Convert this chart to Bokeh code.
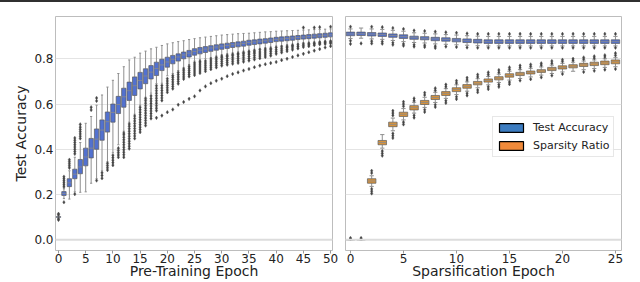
from bokeh.plotting import figure
from bokeh.layouts import row, column
from bokeh.models import (ColumnDataSource, FixedTicker, PrintfTickFormatter, Span, Legend,
                          LegendItem, Range1d, Div)
from bokeh.embed import file_html
from bokeh.resources import INLINE

# ---------------- data: pre-training test accuracy (51 epochs) ----------------
pre_epochs = list(range(51))
pre_q1 = [0.099, 0.196, 0.235, 0.270, 0.292, 0.327, 0.362, 0.400, 0.440, 0.476,
          0.520, 0.558, 0.586, 0.616, 0.638, 0.667, 0.690, 0.711, 0.726, 0.748,
          0.763, 0.778, 0.790, 0.800, 0.808, 0.816, 0.822, 0.828, 0.833, 0.838,
          0.842, 0.846, 0.850, 0.853, 0.856, 0.860, 0.863, 0.866, 0.869, 0.872,
          0.876, 0.878, 0.880, 0.882, 0.885, 0.887, 0.889, 0.891, 0.893, 0.895, 0.897]
pre_med = [0.101, 0.205, 0.252, 0.290, 0.322, 0.366, 0.405, 0.445, 0.485, 0.522,
           0.563, 0.598, 0.632, 0.659, 0.681, 0.704, 0.724, 0.741, 0.757, 0.773,
           0.786, 0.798, 0.808, 0.817, 0.825, 0.832, 0.838, 0.843, 0.848, 0.852,
           0.856, 0.859, 0.862, 0.865, 0.868, 0.872, 0.875, 0.878, 0.880, 0.883,
           0.886, 0.888, 0.890, 0.892, 0.894, 0.896, 0.898, 0.900, 0.902, 0.904, 0.906]
pre_q3 = [0.103, 0.213, 0.270, 0.312, 0.355, 0.405, 0.448, 0.490, 0.530, 0.565,
          0.600, 0.634, 0.670, 0.697, 0.720, 0.740, 0.756, 0.770, 0.785, 0.798,
          0.807, 0.815, 0.822, 0.830, 0.837, 0.845, 0.850, 0.854, 0.858, 0.862,
          0.866, 0.869, 0.872, 0.875, 0.878, 0.882, 0.884, 0.887, 0.889, 0.892,
          0.895, 0.897, 0.899, 0.901, 0.903, 0.905, 0.907, 0.909, 0.911, 0.913, 0.915]
pre_lo = [0.096, 0.182, 0.180, 0.212, 0.210, 0.212, 0.250, 0.270, 0.305, 0.345,
          0.385, 0.420, 0.480, 0.520, 0.555, 0.595, 0.630, 0.648, 0.690, 0.692,
          0.725, 0.735, 0.748, 0.762, 0.775, 0.790, 0.795, 0.800, 0.806, 0.812,
          0.818, 0.822, 0.826, 0.830, 0.834, 0.838, 0.842, 0.846, 0.849, 0.852,
          0.856, 0.859, 0.862, 0.865, 0.868, 0.871, 0.873, 0.875, 0.877, 0.879, 0.881]
pre_hi = [0.106, 0.225, 0.305, 0.365, 0.430, 0.515, 0.545, 0.595, 0.640, 0.675,
          0.705, 0.735, 0.765, 0.795, 0.807, 0.825, 0.834, 0.844, 0.851, 0.859,
          0.866, 0.871, 0.876, 0.880, 0.885, 0.889, 0.893, 0.896, 0.899, 0.902,
          0.905, 0.907, 0.909, 0.911, 0.912, 0.913, 0.915, 0.917, 0.919, 0.920,
          0.922, 0.923, 0.924, 0.925, 0.926, 0.927, 0.928, 0.929, 0.930, 0.931, 0.932]
pre_out = [
    [0.088, 0.092, 0.111, 0.115],
    [0.166, 0.234, 0.243, 0.252, 0.261, 0.270, 0.279],
    [0.318, 0.327, 0.336, 0.345, 0.354],
    [0.202, 0.380, 0.390, 0.400, 0.410, 0.420, 0.430, 0.440, 0.450],
    [0.448, 0.458, 0.468, 0.478, 0.488, 0.498, 0.510],
    [],
    [0.574, 0.586],
    [0.262, 0.614, 0.627],
    [0.272, 0.284, 0.296],
    [0.308, 0.318, 0.328, 0.338],
    [0.330, 0.341, 0.352, 0.363, 0.374],
    [0.365, 0.375, 0.385, 0.395, 0.405],
    [0.365, 0.376, 0.387, 0.398, 0.409, 0.420, 0.431, 0.442, 0.453, 0.464, 0.472],
    [0.403, 0.414, 0.425, 0.436, 0.447, 0.458, 0.469, 0.480, 0.491, 0.502, 0.512],
    [0.448, 0.459, 0.470, 0.481, 0.492, 0.503, 0.514, 0.525, 0.536, 0.547],
    [0.476, 0.487, 0.498, 0.509, 0.520, 0.531, 0.542, 0.553, 0.564, 0.575, 0.586],
    [0.505, 0.516, 0.527, 0.538, 0.549, 0.560, 0.571, 0.582, 0.593, 0.604, 0.615, 0.624],
    [0.536, 0.547, 0.558, 0.569, 0.580, 0.591, 0.602, 0.613, 0.624, 0.636],
    [0.539, 0.571, 0.582, 0.593, 0.604, 0.615, 0.626, 0.637, 0.648, 0.659, 0.670, 0.681],
    [0.549, 0.616, 0.627, 0.638, 0.649, 0.660, 0.671, 0.682],
    [0.564, 0.652, 0.662, 0.672, 0.682, 0.692, 0.702, 0.712],
    [0.576, 0.668, 0.678, 0.688, 0.698, 0.708, 0.718, 0.726],
    [0.597, 0.690, 0.700, 0.710, 0.720, 0.730, 0.740],
    [0.609, 0.711, 0.720, 0.729, 0.738, 0.747, 0.755],
    [0.623, 0.722, 0.731, 0.740, 0.749, 0.758, 0.767],
    [0.634, 0.728, 0.737, 0.746, 0.755, 0.764, 0.773, 0.782],
    [0.660, 0.737, 0.746, 0.755, 0.764, 0.773, 0.782, 0.789],
    [0.678, 0.745, 0.754, 0.763, 0.772, 0.781, 0.790],
    [0.692, 0.754, 0.763, 0.772, 0.781, 0.790, 0.799],
    [0.703, 0.762, 0.771, 0.780, 0.789, 0.798, 0.806],
    [0.712, 0.770, 0.779, 0.788, 0.797, 0.806, 0.812],
    [0.723, 0.774, 0.783, 0.792, 0.801, 0.810, 0.816],
    [0.733, 0.778, 0.787, 0.796, 0.805, 0.814, 0.820],
    [0.740, 0.782, 0.791, 0.800, 0.809, 0.818, 0.824],
    [0.748, 0.787, 0.796, 0.805, 0.814, 0.822, 0.828],
    [0.755, 0.792, 0.801, 0.810, 0.819, 0.826, 0.832],
    [0.763, 0.797, 0.806, 0.815, 0.824, 0.830, 0.836],
    [0.770, 0.803, 0.812, 0.821, 0.830, 0.840],
    [0.776, 0.808, 0.817, 0.826, 0.835, 0.843],
    [0.781, 0.814, 0.823, 0.832, 0.840, 0.846],
    [0.786, 0.822, 0.831, 0.840, 0.850],
    [0.794, 0.828, 0.836, 0.844, 0.853],
    [0.800, 0.834, 0.842, 0.850, 0.856],
    [0.808, 0.840, 0.848, 0.856, 0.860],
    [0.815, 0.846, 0.854, 0.862],
    [0.822, 0.852, 0.859, 0.866, 0.938],
    [0.829, 0.856, 0.862, 0.868],
    [0.836, 0.860, 0.866, 0.870, 0.938],
    [0.843, 0.864, 0.869, 0.873, 0.940],
    [0.850, 0.866, 0.871, 0.875],
    [0.856, 0.868, 0.873, 0.877, 0.942],
]

# ---------------- data: sparsification (26 epochs) ----------------
sp_epochs = list(range(26))
acc_q1 = [0.902, 0.903, 0.901, 0.899, 0.895, 0.890, 0.886, 0.884, 0.880, 0.878, 0.875, 0.872, 0.870,
          0.868, 0.868, 0.868, 0.868, 0.868, 0.868, 0.868, 0.868, 0.868, 0.868, 0.868, 0.868, 0.868]
acc_med = [0.910, 0.911, 0.909, 0.907, 0.903, 0.898, 0.893, 0.891, 0.888, 0.886, 0.883, 0.880, 0.878,
           0.876, 0.876, 0.876, 0.876, 0.876, 0.876, 0.876, 0.876, 0.876, 0.876, 0.876, 0.876, 0.876]
acc_q3 = [0.918, 0.918, 0.916, 0.914, 0.910, 0.906, 0.900, 0.898, 0.895, 0.893, 0.890, 0.888, 0.886,
          0.884, 0.884, 0.884, 0.884, 0.884, 0.884, 0.884, 0.884, 0.884, 0.884, 0.884, 0.884, 0.884]
acc_lo = [0.890, 0.891, 0.888, 0.886, 0.881, 0.876, 0.872, 0.870, 0.866, 0.864, 0.862, 0.860, 0.858,
          0.857, 0.857, 0.857, 0.857, 0.857, 0.857, 0.857, 0.857, 0.857, 0.857, 0.857, 0.857, 0.857]
acc_hi = [0.932, 0.936, 0.932, 0.930, 0.926, 0.922, 0.915, 0.913, 0.910, 0.907, 0.905, 0.902, 0.900,
          0.899, 0.899, 0.899, 0.899, 0.899, 0.899, 0.899, 0.899, 0.899, 0.899, 0.899, 0.899, 0.899]
acc_out = [[0.942, 0.880, 0.866], [0.868], [0.942, 0.878, 0.868], [0.940, 0.876, 0.867],
           [0.936, 0.871, 0.862], [0.932, 0.866, 0.858], [0.925, 0.862, 0.854], [0.923, 0.860, 0.852],
           [0.920, 0.856, 0.848], [0.917, 0.854], [0.915, 0.852], [0.912, 0.850], [0.910, 0.849],
           [0.910, 0.849], [0.910, 0.849], [0.910, 0.849], [0.910, 0.849], [0.910, 0.849],
           [0.910, 0.849], [0.910, 0.849], [0.910, 0.849], [0.910, 0.849], [0.910, 0.849],
           [0.910, 0.849], [0.910, 0.849], [0.910, 0.849]]

spr_q1 = [0.0, 0.0, 0.250, 0.420, 0.500, 0.545, 0.574, 0.598, 0.620, 0.638, 0.655, 0.670, 0.685,
          0.697, 0.707, 0.719, 0.726, 0.733, 0.740, 0.748, 0.755, 0.760, 0.766, 0.770, 0.774, 0.778]
spr_med = [0.0, 0.0, 0.260, 0.430, 0.510, 0.555, 0.584, 0.607, 0.629, 0.647, 0.664, 0.678, 0.692,
           0.704, 0.714, 0.726, 0.733, 0.740, 0.746, 0.755, 0.762, 0.767, 0.773, 0.778, 0.782, 0.787]
spr_q3 = [0.0, 0.0, 0.270, 0.439, 0.520, 0.564, 0.593, 0.616, 0.638, 0.655, 0.672, 0.686, 0.700,
          0.711, 0.721, 0.734, 0.740, 0.746, 0.752, 0.762, 0.769, 0.774, 0.780, 0.785, 0.790, 0.795]
spr_lo = [0.0, 0.0, 0.236, 0.405, 0.482, 0.530, 0.560, 0.585, 0.607, 0.625, 0.642, 0.657, 0.672,
          0.685, 0.695, 0.706, 0.713, 0.720, 0.728, 0.735, 0.742, 0.745, 0.752, 0.757, 0.762, 0.765]
spr_hi = [0.0, 0.0, 0.283, 0.465, 0.538, 0.580, 0.608, 0.630, 0.652, 0.668, 0.685, 0.698, 0.712,
          0.722, 0.732, 0.745, 0.752, 0.758, 0.764, 0.772, 0.780, 0.785, 0.790, 0.795, 0.800, 0.805]
spr_out = [[0.004, 0.008], [0.004, 0.008], [0.295, 0.305, 0.225, 0.215, 0.205],
           [0.392, 0.382, 0.372], [0.550, 0.560, 0.570, 0.470, 0.460, 0.450],
           [0.590, 0.600, 0.610, 0.520, 0.510], [0.615, 0.625, 0.550, 0.540],
           [0.640, 0.650, 0.575, 0.565], [0.660, 0.670, 0.597, 0.587],
           [0.676, 0.686, 0.615, 0.605], [0.693, 0.703, 0.632, 0.622],
           [0.706, 0.716, 0.648, 0.638], [0.720, 0.730, 0.662, 0.652],
           [0.730, 0.740, 0.676, 0.666], [0.740, 0.750, 0.686, 0.676],
           [0.753, 0.762, 0.697, 0.688], [0.760, 0.770, 0.704], [0.766, 0.775, 0.710],
           [0.772, 0.780, 0.718], [0.780, 0.790, 0.726], [0.788, 0.796, 0.733],
           [0.793, 0.800], [0.798, 0.806, 0.742], [0.803, 0.811, 0.747],
           [0.808, 0.816, 0.752], [0.815, 0.825, 0.755]]

legend_labels = ["Test Accuracy", "Sparsity Ratio"]
y_ticks = [0.0, 0.2, 0.4, 0.6, 0.8]
pre_ticks = [0, 5, 10, 15, 20, 25, 30, 35, 40, 45, 50]
sp_ticks = [0, 5, 10, 15, 20, 25]

BLUE = "#5271cf"
ORANGE = "#d7923b"
LEG_BLUE = "#3c7cc0"
LEG_ORANGE = "#f08a3a"
FONT = "DejaVu Sans"
Y_RANGE = (-0.0473, 0.987)
NAN = float("nan")


def draw_boxes(p, xs, q1, med, q3, lo, hi, outs, fill, width):
    cw = width * 0.25
    hw = width * 0.5
    src = ColumnDataSource(dict(
        x=xs, q1=q1, med=med, q3=q3, lo=lo, hi=hi,
        xl=[x - cw for x in xs], xr=[x + cw for x in xs],
        ml=[x - hw for x in xs], mr=[x + hw for x in xs]))
    wcol = "#8f8f8f"
    p.segment(x0="x", y0="q3", x1="x", y1="hi", source=src, line_color=wcol, line_width=1)
    p.segment(x0="x", y0="q1", x1="x", y1="lo", source=src, line_color=wcol, line_width=1)
    p.segment(x0="xl", y0="hi", x1="xr", y1="hi", source=src, line_color=wcol, line_width=1)
    p.segment(x0="xl", y0="lo", x1="xr", y1="lo", source=src, line_color=wcol, line_width=1)
    p.vbar(x="x", width=width, top="q3", bottom="q1", source=src,
           fill_color=fill, line_color="#5a5a5a", line_width=0.7)
    p.segment(x0="ml", y0="med", x1="mr", y1="med", source=src, line_color="#8a8a8a",
              line_width=0.8)
    ox = [x for x, vals in zip(xs, outs) for _ in vals]
    oy = [v for vals in outs for v in vals]
    p.scatter(ox, oy, marker="diamond", size=3.6, fill_color="#444444", line_color="#444444",
              line_width=0.4)


def style(p, ticks):
    p.xaxis.ticker = FixedTicker(ticks=ticks)
    p.xaxis.minor_tick_line_color = None
    p.xaxis.major_tick_out = 3
    p.xaxis.major_tick_in = 0
    p.xaxis.major_tick_line_color = "#9a9a9a"
    p.xaxis.axis_line_color = None
    p.xaxis.major_label_standoff = 0
    p.xaxis.major_label_text_font = FONT
    p.xaxis.major_label_text_font_size = "12px"
    p.xaxis.major_label_text_color = "#222222"
    p.xaxis.axis_label_text_font = FONT
    p.xaxis.axis_label_text_font_size = "14px"
    p.xaxis.axis_label_text_font_style = "normal"
    p.xaxis.axis_label_text_color = "#222222"
    p.xaxis.axis_label_standoff = -3
    p.xgrid.grid_line_color = None
    p.ygrid.ticker = FixedTicker(ticks=y_ticks)
    p.ygrid.grid_line_color = "#e4e4e4"
    p.ygrid.grid_line_width = 1
    p.outline_line_color = "#bdbdbd"
    p.outline_line_width = 1
    p.background_fill_color = "white"
    p.border_fill_color = "white"
    p.add_layout(Span(location=0.0, dimension="width", line_color="#dcdcdc", line_width=2))


H = 279
p1 = figure(width=338, height=H, output_backend="svg", toolbar_location=None,
            x_range=Range1d(-0.55, 50.35), y_range=Range1d(*Y_RANGE),
            min_border_left=55, min_border_right=6, min_border_top=14, min_border_bottom=31)
style(p1, pre_ticks)
p1.xaxis.axis_label = "Pre-Training Epoch"
p1.yaxis.ticker = FixedTicker(ticks=y_ticks)
p1.yaxis.formatter = PrintfTickFormatter(format="%.1f")
p1.yaxis.minor_tick_line_color = None
p1.yaxis.major_tick_out = 0
p1.yaxis.major_tick_in = 0
p1.yaxis.axis_line_color = None
p1.yaxis.major_label_standoff = 2
p1.yaxis.major_label_text_font = FONT
p1.yaxis.major_label_text_font_size = "12px"
p1.yaxis.major_label_text_color = "#222222"
p1.yaxis.axis_label = "Test Accuracy"
p1.yaxis.axis_label_text_font = FONT
p1.yaxis.axis_label_text_font_size = "14px"
p1.yaxis.axis_label_text_font_style = "normal"
p1.yaxis.axis_label_text_color = "#222222"
p1.yaxis.axis_label_standoff = 2
draw_boxes(p1, pre_epochs, pre_q1, pre_med, pre_q3, pre_lo, pre_hi, pre_out, BLUE, 0.8)

p2 = figure(width=295, height=H, output_backend="svg", toolbar_location=None,
            x_range=Range1d(-0.47, 25.57), y_range=Range1d(*Y_RANGE),
            min_border_left=7, min_border_right=12, min_border_top=14, min_border_bottom=31)
style(p2, sp_ticks)
p2.xaxis.axis_label = "Sparsification Epoch"
p2.yaxis.visible = False
draw_boxes(p2, sp_epochs, acc_q1, acc_med, acc_q3, acc_lo, acc_hi, acc_out, BLUE, 0.8)
draw_boxes(p2, sp_epochs, spr_q1, spr_med, spr_q3, spr_lo, spr_hi, spr_out, ORANGE, 0.8)

# legend proxies: NaN data draws no mark, only the legend swatch
leg1 = p2.vbar(x=[0], top=[NAN], bottom=[NAN], width=0.8, fill_color=LEG_BLUE,
               line_color="black", line_width=1.2)
leg2 = p2.vbar(x=[0], top=[NAN], bottom=[NAN], width=0.8, fill_color=LEG_ORANGE,
               line_color="black", line_width=1.2)
legend = Legend(items=[LegendItem(label=legend_labels[0], renderers=[leg1]),
                       LegendItem(label=legend_labels[1], renderers=[leg2])],
                location=(147, 93), glyph_width=30, glyph_height=11, label_height=15,
                spacing=3, padding=3, margin=0, label_standoff=7,
                label_text_font=FONT, label_text_font_size="11px", label_text_color="#222222",
                border_line_color="#d0d0d0", border_line_width=1,
                background_fill_color="white", background_fill_alpha=0.85)
p2.add_layout(legend)

band = Div(text="", width=640, height=2, margin=0, styles={"background-color": "#303030"})
layout = column(band, row(p1, p2))
open("out.html", "w").write(file_html(layout, INLINE))
